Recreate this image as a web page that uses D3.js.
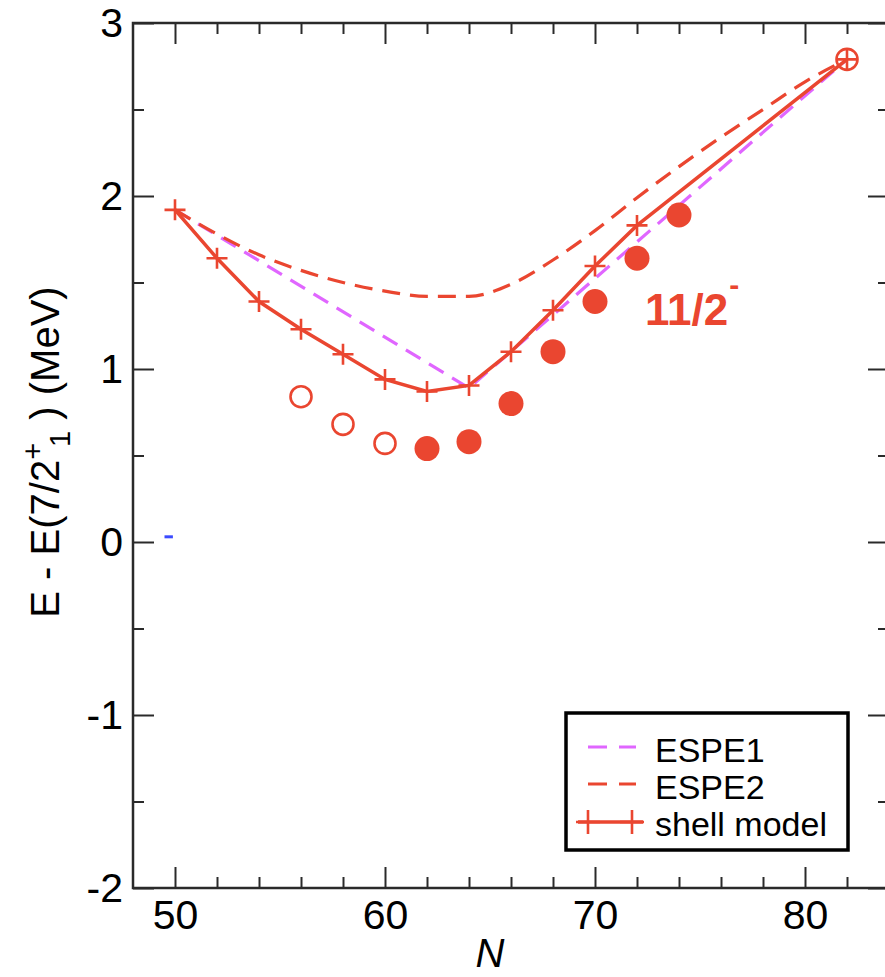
<!DOCTYPE html>
<html>
<head>
<meta charset="utf-8">
<script src="https://cdn.jsdelivr.net/npm/d3@7"></script>
<style>
  html, body { margin: 0; padding: 0; background: #fff; }
  svg { display: block; font-family: "Liberation Sans", Arial, Helvetica, sans-serif; }
</style>
</head>
<body>
<svg id="chart" width="885" height="977"></svg>
<script>
// ---- data ----
const shellN = [50, 52, 54, 56, 58, 60, 62, 64, 66, 68, 70, 72, 82];
const shellE = [1.92, 1.64, 1.39, 1.23, 1.085, 0.94, 0.87, 0.905, 1.10, 1.34, 1.595, 1.83, 2.79];

const espe1N = [50, 64, 82];
const espe1E = [1.92, 0.89, 2.79];

const espe2N = [50, 52, 54, 56, 58, 60, 62, 64, 66, 68, 70, 72, 74, 76, 78, 80, 82];
const espe2E = [1.92, 1.78, 1.66, 1.57, 1.50, 1.45, 1.42, 1.42, 1.49, 1.63, 1.80, 1.99, 2.17, 2.34, 2.50, 2.66, 2.79];

const expOpenN = [56, 58, 60];
const expOpenE = [0.84, 0.68, 0.57];

const expFilledN = [62, 64, 66, 68, 70, 72, 74];
const expFilledE = [0.54, 0.58, 0.80, 1.10, 1.39, 1.64, 1.89];

const expClosedShellN = [82];
const expClosedShellE = [2.79];

// ground state 7/2+ reference level
const groundN = [49.5, 49.9];
const groundE = [0.03, 0.03];

const xMajor = [50, 60, 70, 80];
const xMinor = [52, 54, 56, 58, 62, 64, 66, 68, 72, 74, 76, 78, 82];
const yMajor = [-2, -1, 0, 1, 2, 3];
const yMinor = [-1.5, -0.5, 0.5, 1.5, 2.5];

const legendLabels = ["ESPE1", "ESPE2", "shell model"];

// ---- styles ----
const RED = "#ea4630";
const MAGENTA = "#e066ff";
const BLUE = "#3b4bff";
const AXIS = "#2a2a2a";

const svg = d3.select("#chart");
const plotLeft = 133, plotRight = 889, plotTop = 23, plotBottom = 888;

const x = d3.scaleLinear().domain([48, 84]).range([plotLeft, plotRight]);
const y = d3.scaleLinear().domain([-2, 3]).range([plotBottom, plotTop]);

// ---- axes (ticks point inward) ----
function styleAxis(g) {
  g.select(".domain").remove();
  g.selectAll(".tick line").attr("stroke", AXIS).attr("stroke-width", 2);
  g.selectAll(".tick text").attr("fill", "#000").attr("font-size", 41)
    .attr("font-family", "'Liberation Sans', Arial, Helvetica, sans-serif");
}

svg.append("g").attr("transform", `translate(0,${plotBottom})`)
  .call(d3.axisBottom(x).tickValues(xMajor).tickSize(-21).tickPadding(12).tickFormat(d3.format("d")))
  .call(styleAxis);
svg.append("g").attr("transform", `translate(0,${plotBottom})`)
  .call(d3.axisBottom(x).tickValues(xMinor).tickSize(-11).tickFormat(""))
  .call(styleAxis);
svg.append("g").attr("transform", `translate(0,${plotTop})`)
  .call(d3.axisTop(x).tickValues(xMajor).tickSize(-21).tickFormat(""))
  .call(styleAxis);
svg.append("g").attr("transform", `translate(0,${plotTop})`)
  .call(d3.axisTop(x).tickValues(xMinor).tickSize(-11).tickFormat(""))
  .call(styleAxis);

svg.append("g").attr("transform", `translate(${plotLeft},0)`)
  .call(d3.axisLeft(y).tickValues(yMajor).tickSize(-21).tickPadding(10).tickFormat(d => String(d)))
  .call(styleAxis);
svg.append("g").attr("transform", `translate(${plotLeft},0)`)
  .call(d3.axisLeft(y).tickValues(yMinor).tickSize(-11).tickFormat(""))
  .call(styleAxis);
svg.append("g").attr("transform", `translate(${plotRight},0)`)
  .call(d3.axisRight(y).tickValues(yMajor).tickSize(-21).tickFormat(""))
  .call(styleAxis);
svg.append("g").attr("transform", `translate(${plotRight},0)`)
  .call(d3.axisRight(y).tickValues(yMinor).tickSize(-11).tickFormat(""))
  .call(styleAxis);

// frame
svg.append("rect")
  .attr("x", plotLeft).attr("y", plotTop)
  .attr("width", plotRight - plotLeft).attr("height", plotBottom - plotTop)
  .attr("fill", "none").attr("stroke", AXIS).attr("stroke-width", 2.5);

// ---- axis titles ----
svg.append("text")
  .attr("x", 490).attr("y", 967)
  .attr("text-anchor", "middle")
  .attr("font-size", 40).attr("font-style", "italic")
  .text("N");

const yTitle = svg.append("text")
  .attr("transform", "translate(59,452) rotate(-90)")
  .attr("text-anchor", "middle")
  .attr("font-size", 40);
yTitle.append("tspan").text("E - E(7/2");
yTitle.append("tspan").attr("dy", -16).attr("font-size", 29).text("+");
yTitle.append("tspan").attr("dy", 27).attr("dx", -4).attr("font-size", 29).text("1");
yTitle.append("tspan").attr("dy", -11).text(" ) (MeV)");

// ---- lines ----
const pairs = (ns, es) => ns.map((n, i) => [n, es[i]]);
const line = d3.line().x(d => x(d[0])).y(d => y(d[1]));
const smooth = d3.line().x(d => x(d[0])).y(d => y(d[1])).curve(d3.curveMonotoneX);

svg.append("path").datum(pairs(groundN, groundE))
  .attr("d", line).attr("fill", "none")
  .attr("stroke", BLUE).attr("stroke-width", 3);

svg.append("path").datum(pairs(espe1N, espe1E))
  .attr("d", line).attr("fill", "none")
  .attr("stroke", MAGENTA).attr("stroke-width", 3.2)
  .attr("stroke-dasharray", "17 10");

svg.append("path").datum(pairs(espe2N, espe2E))
  .attr("d", smooth).attr("fill", "none")
  .attr("stroke", RED).attr("stroke-width", 3.2)
  .attr("stroke-dasharray", "18 10");

svg.append("path").datum(pairs(shellN, shellE))
  .attr("d", line).attr("fill", "none")
  .attr("stroke", RED).attr("stroke-width", 3.5);

// plus markers
function plus(g, cx, cy, h) {
  g.append("path")
    .attr("d", `M${cx - h},${cy}H${cx + h}M${cx},${cy - h}V${cy + h}`)
    .attr("stroke", RED).attr("stroke-width", 2.6).attr("fill", "none");
}
const marks = svg.append("g");
pairs(shellN, shellE).forEach(d => plus(marks, x(d[0]), y(d[1]), 10.5));

// experimental points
svg.append("g").selectAll("circle").data(pairs(expOpenN, expOpenE)).join("circle")
  .attr("cx", d => x(d[0])).attr("cy", d => y(d[1])).attr("r", 10.5)
  .attr("fill", "#fff").attr("stroke", RED).attr("stroke-width", 2.6);

svg.append("g").selectAll("circle").data(pairs(expFilledN, expFilledE)).join("circle")
  .attr("cx", d => x(d[0])).attr("cy", d => y(d[1])).attr("r", 12.5)
  .attr("fill", RED);

svg.append("g").selectAll("circle").data(pairs(expClosedShellN, expClosedShellE)).join("circle")
  .attr("cx", d => x(d[0])).attr("cy", d => y(d[1])).attr("r", 10.5)
  .attr("fill", "none").attr("stroke", RED).attr("stroke-width", 2.6);

// state label
const stateLabel = svg.append("text")
  .attr("x", 645).attr("y", 325)
  .attr("fill", RED).attr("font-weight", "bold").attr("font-size", 44);
stateLabel.append("tspan").text("11/2");
stateLabel.append("tspan").attr("dy", -30).attr("dx", 1).attr("font-size", 30).text("-");

// ---- legend ----
const lg = svg.append("g");
lg.append("rect")
  .attr("x", 566).attr("y", 713).attr("width", 282).attr("height", 137)
  .attr("fill", "#fff").attr("stroke", "#000").attr("stroke-width", 3.5);

const rowY = [747, 784, 822];
const textY = [762, 799, 836];
const sampleX0 = 585, sampleX1 = 636;

lg.append("line").attr("x1", sampleX0 + 3).attr("x2", sampleX1).attr("y1", rowY[0]).attr("y2", rowY[0])
  .attr("stroke", MAGENTA).attr("stroke-width", 3.2).attr("stroke-dasharray", "19 12");
lg.append("line").attr("x1", sampleX0 + 3).attr("x2", sampleX1).attr("y1", rowY[1]).attr("y2", rowY[1])
  .attr("stroke", RED).attr("stroke-width", 3.2).attr("stroke-dasharray", "19 12");
lg.append("line").attr("x1", sampleX0 - 7).attr("x2", sampleX1 + 7).attr("y1", rowY[2]).attr("y2", rowY[2])
  .attr("stroke", RED).attr("stroke-width", 3.5);
plus(lg, sampleX0 + 3, rowY[2], 12);
plus(lg, sampleX1 - 4, rowY[2], 12);

lg.selectAll("text.lab").data(legendLabels).join("text")
  .attr("class", "lab")
  .attr("x", 655).attr("y", (d, i) => textY[i])
  .attr("font-size", 34).attr("fill", "#000")
  .text(d => d);
</script>
</body>
</html>
